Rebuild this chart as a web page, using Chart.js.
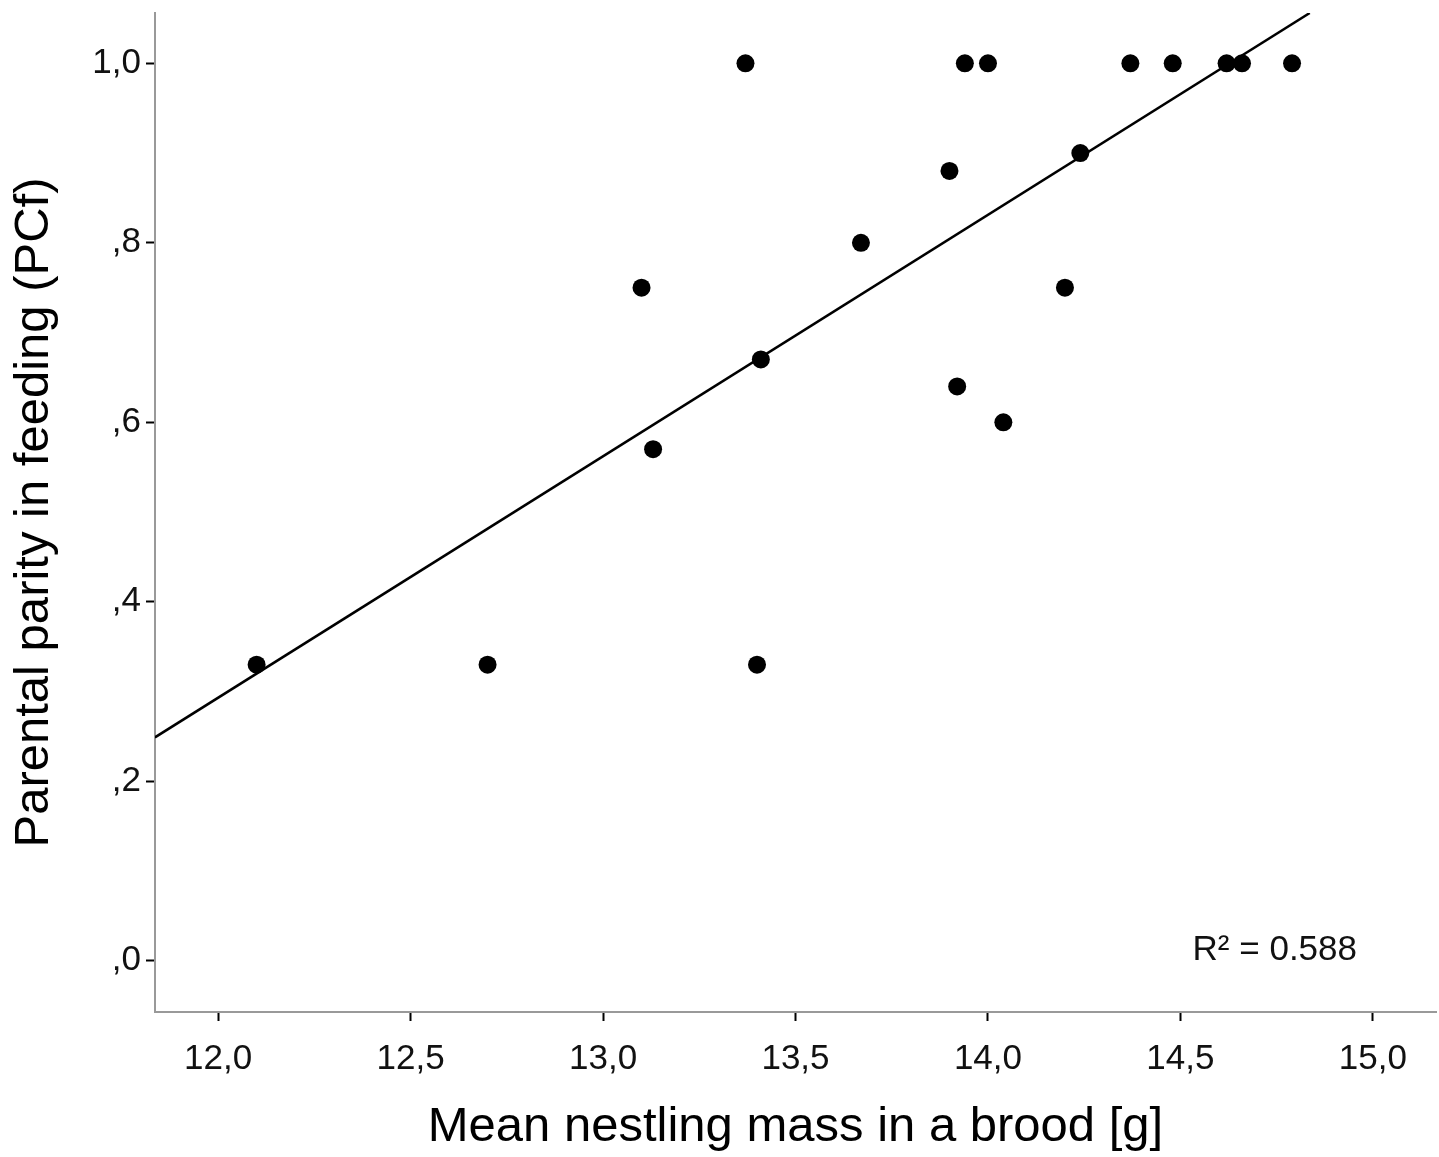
<!DOCTYPE html>
<html>
<head>
<meta charset="utf-8">
<script src="https://cdn.jsdelivr.net/npm/chart.js@4/dist/chart.umd.min.js"></script>
<style>
  html, body { margin: 0; padding: 0; background: #fff; }
  #wrap { width: 1439px; height: 1157px; }
</style>
</head>
<body>
<div id="wrap"><canvas id="chart" width="1439" height="1157"></canvas></div>
<script>
// --- Data ---
const massX = [12.10, 12.70, 13.40, 13.10, 13.13, 13.41, 13.37, 13.67, 13.90, 13.92,
               13.94, 14.00, 14.04, 14.20, 14.24, 14.37, 14.48, 14.62, 14.66, 14.79];
const parityY = [0.33, 0.33, 0.33, 0.75, 0.57, 0.67, 1.00, 0.80, 0.88, 0.64,
                 1.00, 1.00, 0.60, 0.75, 0.90, 1.00, 1.00, 1.00, 1.00, 1.00];

// fit line end points
const fitX = [11.836, 14.836];
const fitY = [0.249, 1.056];

const xTicks = [12.0, 12.5, 13.0, 13.5, 14.0, 14.5, 15.0];
const yTicks = [0, 0.2, 0.4, 0.6, 0.8, 1.0];
const xRange = [11.836, 15.164];
const yRange = [-0.057, 1.056];
const rSquared = "R\u00b2 = 0.588";

// SPSS style labels: comma decimal, no leading zero below 1
function fmtTick(v) {
  let s = v.toFixed(1).replace(".", ",");
  if (Math.abs(v) < 1) s = s.replace(/^0/, "");
  return s;
}

const points = massX.map((x, i) => ({ x: x, y: parityY[i] }));
const fitLine = fitX.map((x, i) => ({ x: x, y: fitY[i] }));

// no extra room for half tick labels, layout padding decides
function noScalePadding(s) {
  s.paddingTop = 0; s.paddingBottom = 0; s.paddingLeft = 0; s.paddingRight = 0;
}

// R² label inside the plot
const r2Label = {
  id: "r2Label",
  afterDraw(chart) {
    const ctx = chart.ctx;
    const area = chart.chartArea;
    ctx.save();
    ctx.font = "35px 'Liberation Sans', Arial, sans-serif";
    ctx.fillStyle = "#111";
    ctx.textAlign = "right";
    ctx.textBaseline = "middle";
    ctx.fillText(rSquared, area.right - 79, area.bottom - 62);
    ctx.restore();
  }
};

Chart.defaults.font.family = "'Liberation Sans', Arial, sans-serif";
Chart.defaults.color = "#111";

new Chart(document.getElementById("chart").getContext("2d"), {
  type: "scatter",
  data: {
    datasets: [
      {
        type: "line",
        data: fitLine,
        borderColor: "#000",
        borderWidth: 2.5,
        pointRadius: 0,
        fill: false,
        tension: 0
      },
      {
        data: points,
        backgroundColor: "#000",
        borderWidth: 0,
        pointRadius: 9,
        pointHoverRadius: 9
      }
    ]
  },
  options: {
    responsive: false,
    animation: false,
    events: [],
    layout: { autoPadding: false, padding: { top: 13, right: 3, left: 0, bottom: 0 } },
    plugins: { legend: { display: false }, tooltip: { enabled: false } },
    scales: {
      x: {
        type: "linear",
        min: xRange[0],
        max: xRange[1],
        afterBuildTicks: s => { s.ticks = xTicks.map(v => ({ value: v })); },
        afterFit: s => { s.height = 145; noScalePadding(s); },
        border: { color: "#999", width: 2 },
        grid: { drawOnChartArea: false, drawTicks: true, tickLength: 9, tickColor: "#000", tickWidth: 2 },
        ticks: { font: { size: 35 }, padding: 17, callback: v => fmtTick(v), maxRotation: 0 },
        title: {
          display: true,
          text: "Mean nestling mass in a brood [g]",
          font: { size: 49 },
          color: "#000",
          padding: { top: 0, bottom: 0 }
        }
      },
      y: {
        type: "linear",
        min: yRange[0],
        max: yRange[1],
        afterBuildTicks: s => { s.ticks = yTicks.map(v => ({ value: v })); },
        afterFit: s => { s.width = 155; noScalePadding(s); },
        border: { color: "#999", width: 2 },
        grid: { drawOnChartArea: false, drawTicks: true, tickLength: 9, tickColor: "#000", tickWidth: 2 },
        ticks: { font: { size: 35 }, padding: 5, callback: v => fmtTick(v) },
        title: {
          display: true,
          text: "Parental parity in feeding (PCf)",
          font: { size: 49 },
          color: "#000",
          padding: { top: 5, bottom: 0 }
        }
      }
    }
  },
  plugins: [r2Label]
});
</script>
</body>
</html>
